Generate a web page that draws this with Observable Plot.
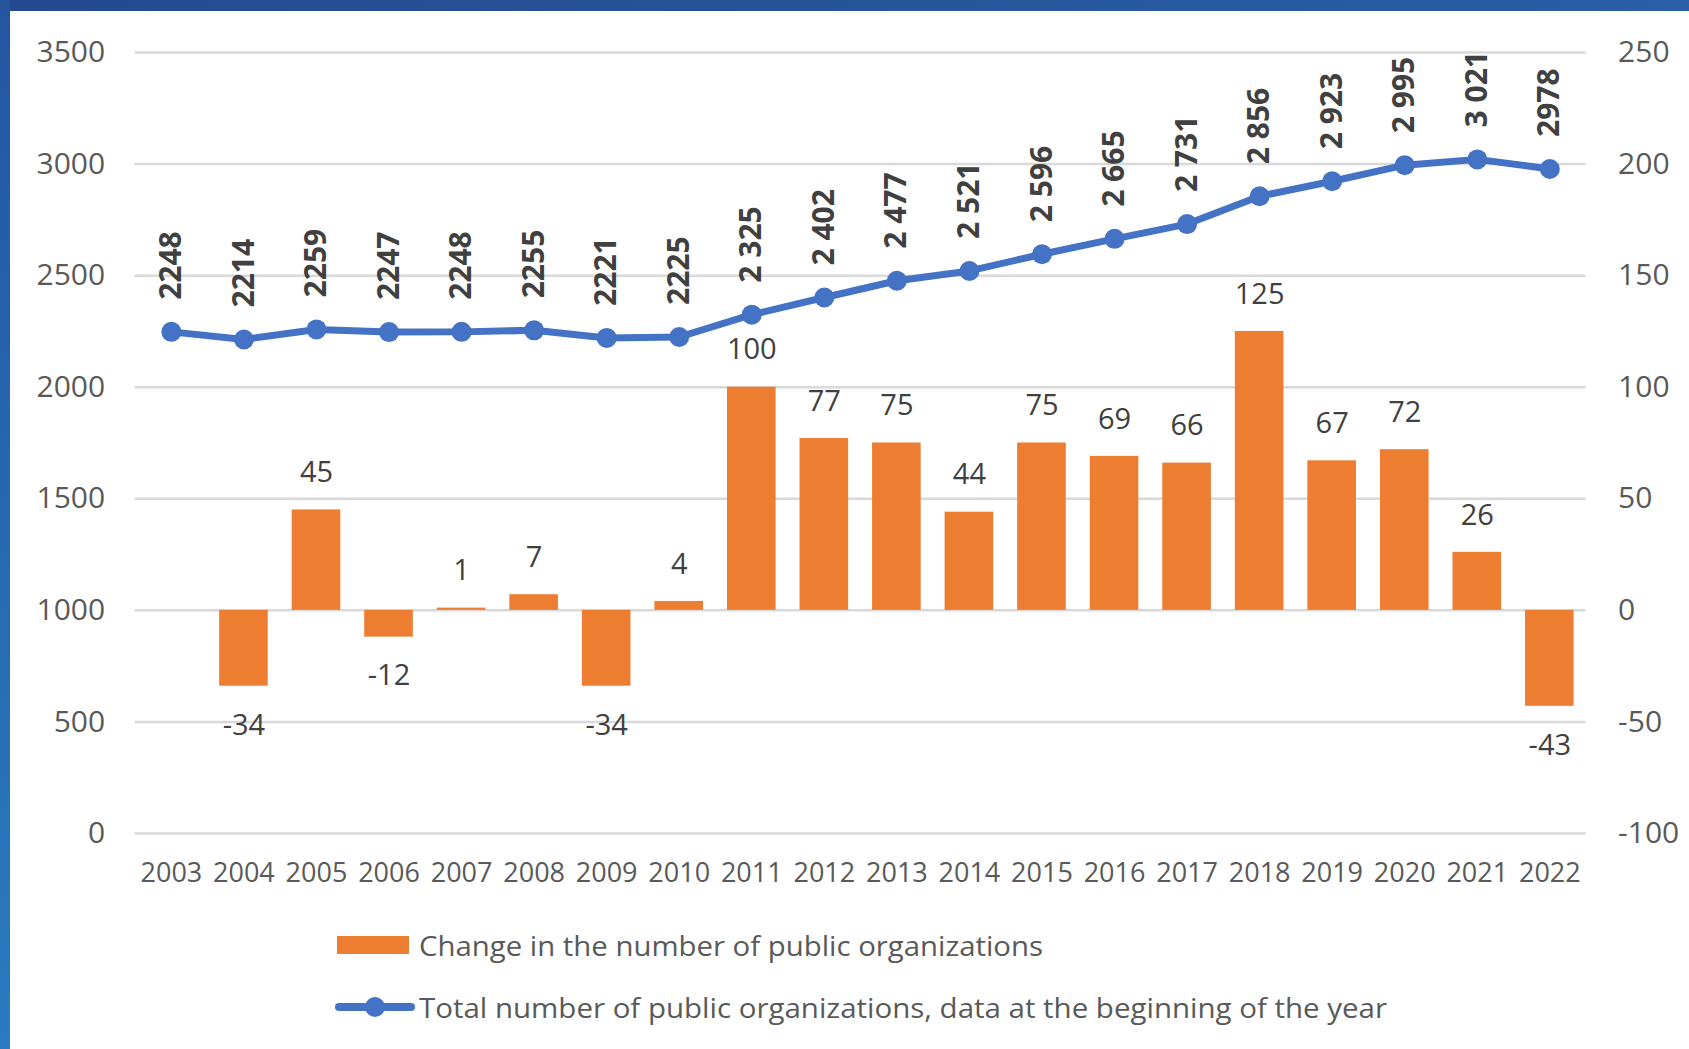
<!DOCTYPE html>
<html>
<head>
<meta charset="utf-8">
<script src="https://cdn.jsdelivr.net/npm/d3@7"></script>
<script src="https://cdn.jsdelivr.net/npm/@observablehq/plot@0.6"></script>
<style>
  html, body { margin: 0; padding: 0; background: #ffffff; }
  body { width: 1689px; height: 1049px; overflow: hidden; position: relative; font-family: "Open Sans", sans-serif; }
  #topbar { position: absolute; left: 0; top: 0; width: 1689px; height: 11px; background: linear-gradient(to right, #234a90, #2a5ea6); z-index: 5; }
  #leftbar { position: absolute; left: 0; top: 0; width: 10px; height: 1049px; background: linear-gradient(to bottom, #2456a0, #2a7bbf); z-index: 5; }
  #chart { position: absolute; left: 0; top: 0; }
  .legend-text { position: absolute; left: 419px; white-space: nowrap; font-size: 28px; color: #595959; transform-origin: left center; line-height: 40px; }
  #sw-bar { position: absolute; left: 337px; top: 936px; width: 72px; height: 18px; background: #ED7D31; }
  #sw-line { position: absolute; left: 335px; top: 1003px; width: 80px; height: 8px; border-radius: 4px; background: #4472C4; }
  #sw-dot { position: absolute; left: 365px; top: 997px; width: 20px; height: 20px; border-radius: 50%; background: #4472C4; }
</style>
</head>
<body>
<div id="topbar"></div>
<div id="leftbar"></div>
<div id="chart"></div>
<div id="sw-bar"></div>
<div id="sw-line"></div>
<div id="sw-dot"></div>
<div class="legend-text" id="lt1" style="top:925px">Change in the number of public organizations</div>
<div class="legend-text" id="lt2" style="top:987px">Total number of public organizations, data at the beginning of the year</div>
<script>
const years = ["2003","2004","2005","2006","2007","2008","2009","2010","2011","2012","2013","2014","2015","2016","2017","2018","2019","2020","2021","2022"];
const totals = [2248, 2214, 2259, 2247, 2248, 2255, 2221, 2225, 2325, 2402, 2477, 2521, 2596, 2665, 2731, 2856, 2923, 2995, 3021, 2978];
const totalLabels = ["2248","2214","2259","2247","2248","2255","2221","2225","2 325","2 402","2 477","2 521","2 596","2 665","2 731","2 856","2 923","2 995","3 021","2978"];
const changes = [null, -34, 45, -12, 1, 7, -34, 4, 100, 77, 75, 44, 75, 69, 66, 125, 67, 72, 26, -43];
const leftTicks = [0, 500, 1000, 1500, 2000, 2500, 3000, 3500];
const rightTicks = [-100, -50, 0, 50, 100, 150, 200, 250];

// right axis (change) mapped onto left axis units
const toLeft = v => (v + 100) * 10;

const lineData = years.map((y, i) => ({year: y, total: totals[i], label: totalLabels[i]}));
const barData = years.map((y, i) => ({year: y, change: changes[i]})).filter(d => d.change != null);

const plot = Plot.plot({
  width: 1689,
  height: 900,
  marginTop: 52,
  marginBottom: 67,
  marginLeft: 134.6,
  marginRight: 103.4,
  style: {fontFamily: "Open Sans", background: "transparent", overflow: "visible"},
  x: {domain: years, paddingInner: 0.33, paddingOuter: 0.165, round: false, axis: null},
  y: {domain: [0, 3500], axis: null},
  marks: [
    Plot.gridY(leftTicks, {stroke: "#d9d9d9", strokeOpacity: 1, strokeWidth: 2.5}),
    Plot.axisY(leftTicks, {anchor: "left", tickSize: 0, tickPadding: 30, fontSize: 30, fill: "#595959", label: null, tickFormat: d => String(d)}),
    Plot.axisY(rightTicks.map(toLeft), {anchor: "right", tickSize: 0, tickPadding: 32, fontSize: 30, fill: "#595959", label: null, tickFormat: d => String(d / 10 - 100)}),
    Plot.axisX(years, {anchor: "bottom", tickSize: 0, tickPadding: 29, fontSize: 27, fill: "#595959", label: null}),
    Plot.barY(barData, {x: "year", y1: () => toLeft(0), y2: d => toLeft(d.change), fill: "#ED7D31"}),
    Plot.text(barData.filter(d => d.change >= 0), {x: "year", y: d => toLeft(d.change), text: d => String(d.change), dy: -37, fontSize: 29, fill: "#404040"}),
    Plot.text(barData.filter(d => d.change < 0), {x: "year", y: d => toLeft(d.change), text: d => String(d.change), dy: 39, fontSize: 29, fill: "#404040"}),
    Plot.line(lineData, {x: "year", y: "total", stroke: "#4472C4", strokeWidth: 7, strokeLinejoin: "round", strokeLinecap: "round"}),
    Plot.dot(lineData, {x: "year", y: "total", r: 10, fill: "#4472C4", stroke: "none"}),
    Plot.text(lineData, {x: "year", y: "total", text: "label", rotate: -90, textAnchor: "start", dy: -32, fontSize: 30, fontWeight: 700, fill: "#404040"})
  ]
});
document.getElementById("chart").appendChild(plot);

// fit legend text widths to the reference's condensed look
[["lt1", 624], ["lt2", 968]].forEach(([id, target]) => {
  const el = document.getElementById(id);
  const w = el.getBoundingClientRect().width;
  if (w > 0) el.style.transform = `scaleX(${target / w})`;
});
</script>
</body>
</html>
